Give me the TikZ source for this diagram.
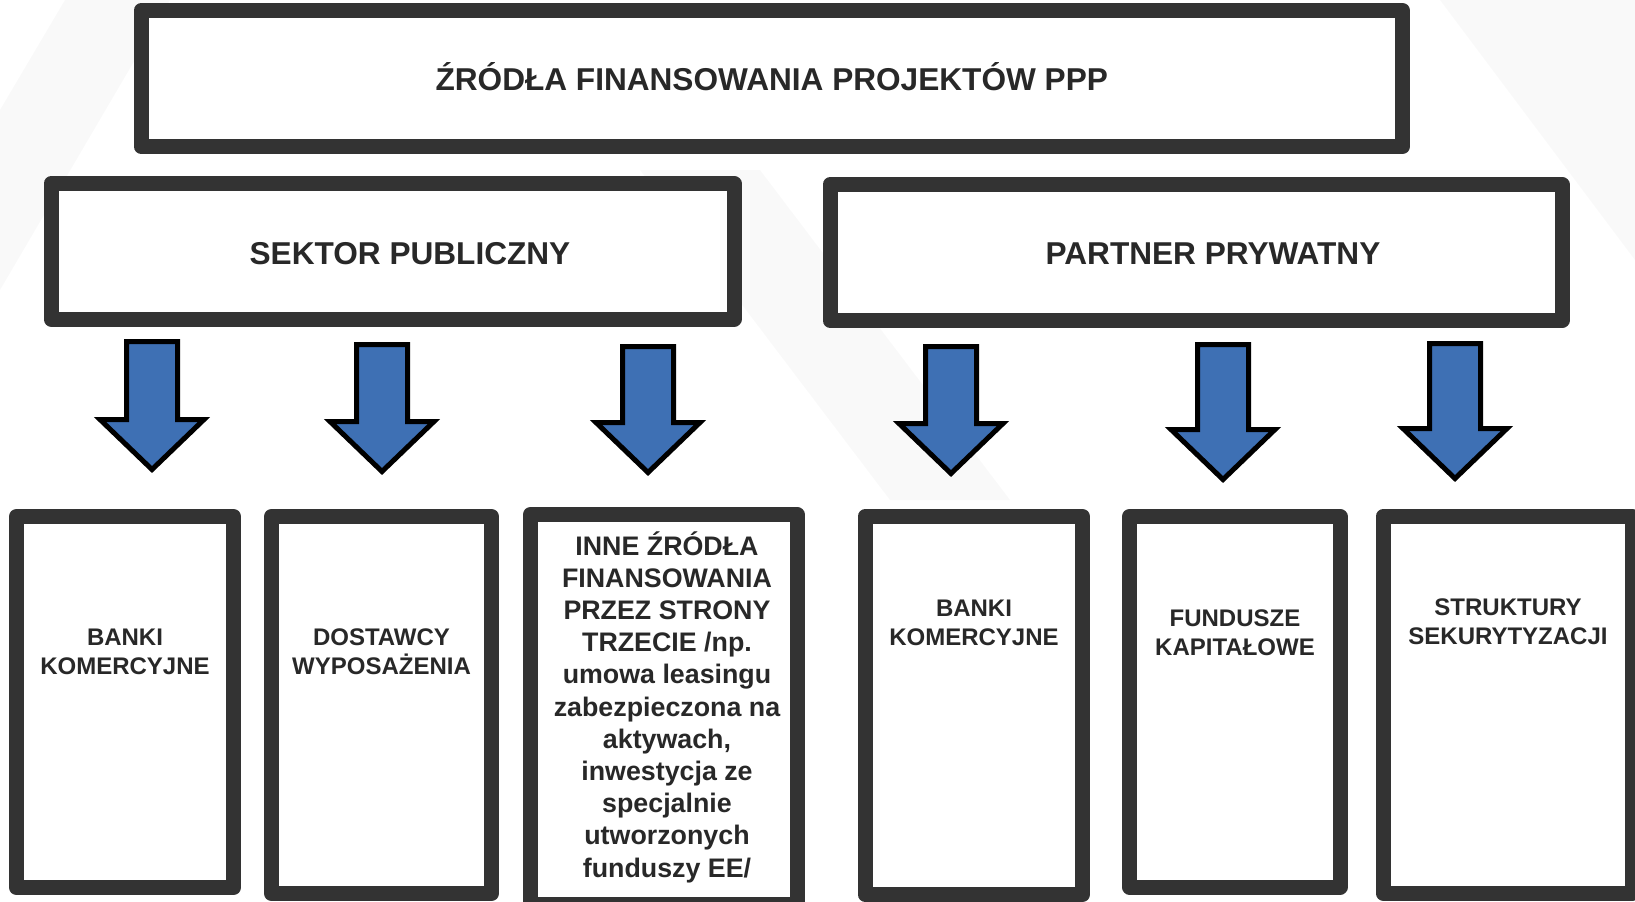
\documentclass[tikz,border=0pt]{standalone}
\usepackage{fontspec}
\setmainfont{Liberation Sans}

\definecolor{framegray}{RGB}{51,51,51}
\definecolor{inkgray}{RGB}{40,40,40}
\definecolor{arrowblue}{RGB}{62,112,180}
\definecolor{bgshade}{RGB}{249,249,249}

\tikzset{
  frame/.style={draw=framegray, line width=7.5pt, line join=round, fill=white, inner sep=0pt},
  headtext/.style={text=inkgray, font=\bfseries\fontsize{15.8}{19}\selectfont, inner sep=0pt, anchor=base},
  srctext/.style={text=inkgray, font=\bfseries\fontsize{12}{14.5}\selectfont, align=center, inner sep=0pt},
  downarrow/.style={draw=black, line width=2.5pt, fill=arrowblue, line join=miter},
}

\begin{document}
\begin{tikzpicture}[x=0.5pt, y=-0.5pt]
  \useasboundingbox (0,0) rectangle (1635,901);
  % faint background
  \fill[bgshade] (0,110) -- (65,0) -- (170,0) -- (0,290) -- cycle;
  \fill[bgshade] (1440,0) -- (1635,0) -- (1635,260) -- cycle;
  \fill[bgshade] (640,170) -- (760,170) -- (1010,500) -- (890,500) -- cycle;

  % headers
  \node[frame, minimum width=630.75pt, minimum height=68pt] (title) at (771.75,78.5) {};
  \node[headtext] (titletext) at (771.75,90) {ŹRÓDŁA FINANSOWANIA PROJEKTÓW PPP};
  \node[frame, minimum width=341.5pt, minimum height=67.75pt] (public) at (392.5,251.25) {};
  \node[headtext] (publictext) at (410,264) {SEKTOR PUBLICZNY};
  \node[frame, minimum width=366pt, minimum height=68pt] (private) at (1196,252.5) {};
  \node[headtext] (privatetext) at (1213,264) {PARTNER PRYWATNY};

  % arrows
  \foreach \cx/\ty/\by in {152/341.5/419.5, 382/344.5/421.5, 648/346.5/422.5,
                           951/346.5/423.5, 1223/344.5/429.5, 1455/343.5/428.5}
    \draw[downarrow] (\cx-25.5,\ty) -- (\cx+25.5,\ty) -- (\cx+25.5,\by) -- (\cx+52,\by)
      -- (\cx,\by+50) -- (\cx-52,\by) -- (\cx-25.5,\by) -- cycle;

  % sources
  \node[frame, minimum width=108.5pt, minimum height=185.5pt] (pubbanks) at (125,702) {};
  \node[srctext] at (125,652) {BANKI\\KOMERCYJNE};
  \node[frame, minimum width=110pt, minimum height=188.5pt] (suppliers) at (381.5,705) {};
  \node[srctext] at (381.5,652) {DOSTAWCY\\WYPOSAŻENIA};
  \node[frame, minimum width=133.25pt, minimum height=195pt] (others) at (663.75,709.5) {};
  \node[srctext, font=\bfseries\fontsize{13.4}{16.1}\selectfont] at (667,707)
    {INNE ŹRÓDŁA\\FINANSOWANIA\\PRZEZ STRONY\\TRZECIE /np.\\umowa leasingu\\zabezpieczona na\\aktywach,\\inwestycja ze\\specjalnie\\utworzonych\\funduszy EE/};
  \node[frame, minimum width=108.75pt, minimum height=189pt] (privbanks) at (973.75,705.5) {};
  \node[srctext] at (974,623) {BANKI\\KOMERCYJNE};
  \node[frame, minimum width=105.25pt, minimum height=185.25pt] (equity) at (1234.75,701.75) {};
  \node[srctext] at (1235,633) {FUNDUSZE\\KAPITAŁOWE};
  \node[frame, minimum width=124.75pt, minimum height=188.25pt] (securit) at (1507.75,704.75) {};
  \node[srctext] at (1508,622) {STRUKTURY\\SEKURYTYZACJI};
\end{tikzpicture}
\end{document}
